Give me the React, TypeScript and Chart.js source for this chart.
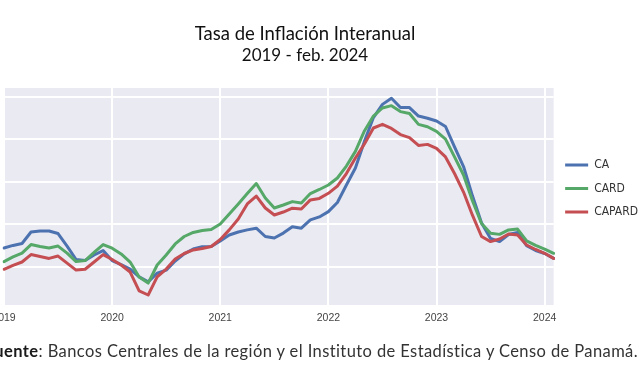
import React, { useEffect, useRef } from "react";
import { Chart, registerables } from "chart.js";

Chart.register(...registerables);

const YEARS = ["2019", "2020", "2021", "2022", "2023", "2024"];
const MONTHS = ["ene", "feb", "mar", "abr", "may", "jun", "jul", "ago", "sep", "oct", "nov", "dic"];
const MONTH_LABELS = YEARS.flatMap((y) => MONTHS.map((m) => `${m} ${y}`)).slice(0, 62);

const Y_GRID = [2, 4, 6, 8, 10];

const CA = [
  2.88, 3.0, 3.09, 3.63, 3.68, 3.68, 3.56, 2.97, 2.34, 2.29, 2.55, 2.76,
  2.29, 2.1, 1.89, 1.52, 1.29, 1.7, 1.84, 2.27, 2.6, 2.83, 2.94, 2.95,
  3.21, 3.49, 3.63, 3.73, 3.81, 3.42, 3.35, 3.58, 3.88, 3.81, 4.2, 4.34,
  4.59, 5.02, 5.84, 6.64, 7.89, 9.01, 9.63, 9.92, 9.48, 9.48, 9.08, 8.98,
  8.85, 8.59, 7.63, 6.71, 5.32, 4.05, 3.33, 3.18, 3.51, 3.61, 2.99, 2.76,
  2.62, 2.39,
];

const CARD = [
  2.24, 2.46, 2.64, 3.04, 2.95, 2.88, 2.97, 2.64, 2.24, 2.29, 2.67, 3.04,
  2.87, 2.6, 2.22, 1.52, 1.23, 2.08, 2.55, 3.07, 3.42, 3.61, 3.7, 3.75,
  4.01, 4.48, 4.95, 5.44, 5.91, 5.23, 4.76, 4.9, 5.06, 4.99, 5.44, 5.63,
  5.84, 6.17, 6.73, 7.42, 8.38, 9.08, 9.46, 9.57, 9.29, 9.2, 8.69, 8.58,
  8.36, 8.0, 7.16, 6.31, 5.09, 4.03, 3.57, 3.52, 3.73, 3.77, 3.21, 3.0,
  2.83, 2.63,
];

const CAPARD = [
  1.88, 2.06, 2.22, 2.57, 2.48, 2.39, 2.5, 2.17, 1.84, 1.88, 2.22, 2.57,
  2.34, 2.08, 1.75, 0.86, 0.67, 1.52, 1.89, 2.36, 2.62, 2.79, 2.86, 2.95,
  3.28, 3.73, 4.24, 4.95, 5.32, 4.76, 4.43, 4.57, 4.75, 4.71, 5.14, 5.21,
  5.45, 5.79, 6.38, 7.11, 7.77, 8.52, 8.69, 8.5, 8.21, 8.07, 7.7, 7.75,
  7.56, 7.16, 6.38, 5.51, 4.41, 3.42, 3.18, 3.3, 3.54, 3.49, 3.02, 2.81,
  2.63, 2.39,
];

const bgPlugin = {
  id: "plotBg",
  beforeDraw(chart: any) {
    const { ctx, chartArea } = chart;
    if (!chartArea) return;
    ctx.save();
    ctx.fillStyle = "#EAEAF2";
    ctx.fillRect(chartArea.left, chartArea.top, chartArea.right - chartArea.left, chartArea.bottom - chartArea.top);
    ctx.restore();
  },
};

export default function App() {
  const ref = useRef<HTMLCanvasElement | null>(null);

  useEffect(() => {
    if (!ref.current) return;
    const common = { borderWidth: 3, tension: 0, pointRadius: 0, borderJoinStyle: "round", borderCapStyle: "round" };
    const chart = new Chart(ref.current, {
      type: "line",
      data: {
        labels: MONTH_LABELS,
        datasets: [
          { label: "CA", data: CA, borderColor: "#4C72B0", backgroundColor: "#4C72B0", order: 2, ...common },
          { label: "CARD", data: CARD, borderColor: "#55A868", backgroundColor: "#55A868", order: 1, ...common },
          { label: "CAPARD", data: CAPARD, borderColor: "#C44E52", backgroundColor: "#C44E52", order: 0, ...common },
        ] as any,
      },
      options: {
        responsive: false,
        animation: false,
        elements: {
          point: { radius: 0, hoverRadius: 0 },
        },
        layout: { padding: { left: 0, right: 4, top: 0, bottom: 54.4 } },
        plugins: {
          title: {
            display: true,
            text: "Tasa de Inflación Interanual",
            color: "#111",
            font: { family: "Lato", size: 18.5, weight: "normal", lineHeight: 1.2 },
            padding: { top: 23, bottom: 0 },
          },
          subtitle: {
            display: true,
            text: "2019 - feb. 2024",
            color: "#111",
            font: { family: "Lato", size: 17, weight: "normal", lineHeight: 1.2 },
            padding: { top: 0, bottom: 22.4 },
          },
          legend: {
            display: true,
            position: "right",
            align: "center",
            title: { display: true, text: " ", font: { size: 12, lineHeight: 1.2 }, padding: { top: 31, bottom: 0 } },
            labels: {
              usePointStyle: true,
              pointStyle: "line",
              pointStyleWidth: 23,
              padding: 11.5,
              color: "#333",
              font: { family: "'Liberation Sans Narrow', 'DejaVu Sans Condensed', 'Liberation Sans'", size: 12 },
              sort: (a: any, b: any) => a.datasetIndex - b.datasetIndex,
            },
          },
          tooltip: { enabled: false },
        },
        scales: {
          x: {
            type: "category",
            offset: false,
            border: { display: false },
            grid: { color: "#FFFFFF", lineWidth: 2, drawTicks: false },
            afterBuildTicks: (axis: any) => {
              axis.ticks = axis.ticks.filter((t: any) => t.value % 12 === 0);
            },
            ticks: {
              autoSkip: false,
              maxRotation: 0,
              padding: 7,
              color: "#444",
              font: { family: "'Liberation Sans', Arial", size: 10.5, lineHeight: 1.2 },
              callback: (value: any) => YEARS[Math.floor(Number(value) / 12)],
            },
          },
          y: {
            min: 0.2,
            max: 10.4,
            border: { display: false },
            grid: { color: "#FFFFFF", lineWidth: 2, drawTicks: false },
            ticks: { display: false },
            afterBuildTicks: (axis: any) => {
              axis.ticks = Y_GRID.map((v) => ({ value: v }));
            },
            afterFit: (scale: any) => {
              scale.width = 42;
            },
          },
        },
      },
      plugins: [bgPlugin],
    });
    return () => chart.destroy();
  }, []);

  return (
    <div
      style={{
        position: "fixed",
        left: 0,
        top: 0,
        width: 640,
        height: 386,
        overflow: "hidden",
        background: "#fff",
      }}
    >
      <canvas
        ref={ref}
        width={690}
        height={386}
        style={{ position: "absolute", left: -38, top: 0, width: 690, height: 386 }}
      />
      <div
        style={{
          position: "absolute",
          right: 2,
          top: 341,
          whiteSpace: "nowrap",
          fontFamily: "Lato, sans-serif",
          fontSize: 16.5,
          letterSpacing: 0.4,
          color: "#333",
        }}
      >
        <span style={{ fontWeight: "bold", color: "#1a1a1a" }}>Fuente</span>: Bancos Centrales de la región y el Instituto de Estadística y Censo de Panamá.
      </div>
    </div>
  );
}
